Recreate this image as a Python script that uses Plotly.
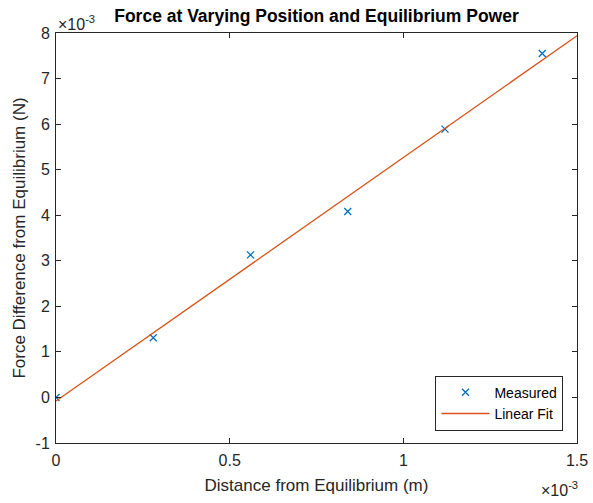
import plotly.graph_objects as go

# Measured displacement (m) and force difference (N)
distance_m = [0.0, 0.28e-3, 0.56e-3, 0.84e-3, 1.12e-3, 1.40e-3]
force_n = [0.0, 1.31e-3, 3.13e-3, 4.08e-3, 5.89e-3, 7.55e-3]

# Least-squares line evaluated at the ends of the x range
fit_x = [0.0, 1.5e-3]
fit_y = [-0.08e-3, 7.94e-3]

x_tickvals = [0.0, 0.5e-3, 1.0e-3, 1.5e-3]
x_ticktext = ["0", "0.5", "1", "1.5"]
y_tickvals = [v * 1e-3 for v in range(-1, 9)]
y_ticktext = [str(v) for v in range(-1, 9)]

BLUE = "#0072BD"
ORANGE = "#D95319"
INK = "#262626"
FONT = "Liberation Sans, Arial, sans-serif"

fig = go.Figure()
fig.add_trace(go.Scatter(
    x=distance_m, y=force_n, mode="markers", name="Measured",
    marker=dict(symbol="x-thin", size=7, color=BLUE,
                line=dict(width=1.3, color=BLUE)),
))
fig.add_trace(go.Scatter(
    x=fit_x, y=fit_y, mode="lines", name="Linear Fit",
    line=dict(color=ORANGE, width=1.3),
))

axis_common = dict(
    showgrid=False, zeroline=False, showline=True, linecolor=INK, linewidth=1,
    mirror="ticks", ticks="inside", ticklen=5, tickcolor=INK, tickwidth=1,
    tickfont=dict(family=FONT, size=16, color=INK), automargin=False,
)

fig.update_layout(
    width=593, height=503,
    margin=dict(l=56, r=16, t=33, b=60),
    paper_bgcolor="white", plot_bgcolor="white",
    font=dict(family=FONT, color=INK),
    title=dict(text="<b>Force at Varying Position and Equilibrium Power</b>",
               x=0.5337, xanchor="center", y=0.968, yanchor="middle",
               font=dict(family=FONT, size=17.5, color="#000000")),
    xaxis=dict(range=[0, 1.5e-3], tickvals=x_tickvals, ticktext=x_ticktext,
               ticklabelstandoff=3,
               title=dict(text="Distance from Equilibrium (m)", standoff=10,
                          font=dict(family=FONT, size=17, color=INK)),
               **axis_common),
    yaxis=dict(range=[-1e-3, 8e-3], tickvals=y_tickvals, ticktext=y_ticktext,
               ticklabelstandoff=2,
               title=dict(text="Force Difference from Equilibrium (N)", standoff=5,
                          font=dict(family=FONT, size=17, color=INK)),
               **axis_common),
    legend=dict(x=0.974, y=0.03, xanchor="right", yanchor="bottom",
                bgcolor="white", bordercolor=INK, borderwidth=1,
                font=dict(family=FONT, size=14, color="#000000"),
                itemwidth=48, tracegroupgap=0),
    showlegend=True,
)

# Exponent multipliers for both axes
fig.add_annotation(text="×10<sup>-3</sup>", xref="paper", yref="paper",
                   x=0.0, y=1.0, xanchor="left", yanchor="bottom", showarrow=False,
                   font=dict(family=FONT, size=16, color=INK), yshift=-2)
fig.add_annotation(text="×10<sup>-3</sup>", xref="paper", yref="paper",
                   x=1.0, y=0.0, xanchor="right", yanchor="top", showarrow=False,
                   font=dict(family=FONT, size=16, color=INK), yshift=-34, xshift=3)

fig.write_html("out.html")
